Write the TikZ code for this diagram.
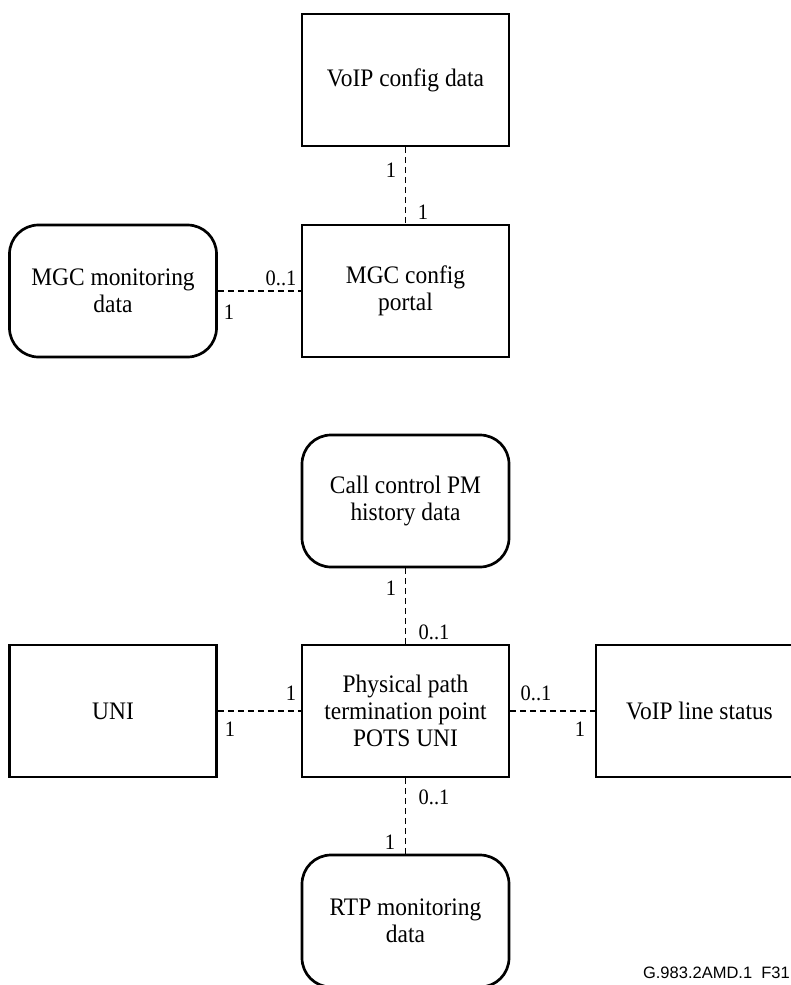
\documentclass[tikz,border=0pt]{standalone}
\usepackage{fontspec}
\setmainfont{Liberation Serif}
\newfontfamily\boxfont[FakeStretch=0.93]{Liberation Serif}
\newfontfamily\figsans{Liberation Sans}
\begin{document}
\begin{tikzpicture}[x=1pt,y=-1pt,
  entity/.style={draw=black, line width=2.7pt, rectangle, minimum width=207pt, minimum height=132pt,
    align=center, inner sep=2pt, font=\boxfont\fontsize{25.2}{27.2}\selectfont},
  roundent/.style={entity, rounded corners=29pt},
  link/.style={line width=1.1pt, dash pattern=on 6pt off 4pt},
  mult/.style={inner sep=0pt, font=\boxfont\fontsize{22}{24}\selectfont}]
\useasboundingbox (0,0) rectangle (791,985);
\clip (0,0) rectangle (791,985);
\fill[white] (0,0) rectangle (791,985);

% upper group
\node[entity]    (voipcfg)   at (405.5,80)  {VoIP config data};
\node[entity]    (mgcportal) at (405.5,291) {MGC config\\portal};
\node[roundent]  (mgcmon)    at (113,291)   {MGC monitoring\\data};

\draw[link] (voipcfg.south) -- (mgcportal.north);
\draw[link] (mgcmon.east) -- (mgcportal.west);

\node[mult] (m1) at (391,170) {1};
\node[mult] (m2) at (423,212) {1};
\node[mult] (m3) at (281,278) {0..1};
\node[mult] (m4) at (229,312) {1};

% lower group
\node[roundent]  (ccpm) at (405.5,501) {Call control PM\\history data};
\node[entity]    (pptp) at (405.5,711) {Physical path\\termination point\\POTS UNI};
\node[entity]    (uni)  at (113,711)   {UNI};
\node[entity]    (vls)  at (699.5,711) {VoIP line status};
\node[roundent]  (rtp)  at (405.5,921) {RTP monitoring\\data};

\draw[link] (ccpm.south) -- (pptp.north);
\draw[link] (uni.east) -- (pptp.west);
\draw[link] (pptp.east) -- (vls.west);
\draw[link] (pptp.south) -- (rtp.north);

\node[mult] (m5)  at (391,588) {1};
\node[mult] (m6)  at (434,632) {0..1};
\node[mult] (m7)  at (291,693) {1};
\node[mult] (m8)  at (230,729) {1};
\node[mult] (m9)  at (536,693) {0..1};
\node[mult] (m10) at (580,729) {1};
\node[mult] (m11) at (434,797) {0..1};
\node[mult] (m12) at (390,842) {1};

% figure tag
\node[anchor=base east, inner sep=0pt, font=\figsans\fontsize{16.5}{18}\selectfont] (tag) at (790,978) {G.983.2AMD.1\ \ F31};
\end{tikzpicture}
\end{document}
